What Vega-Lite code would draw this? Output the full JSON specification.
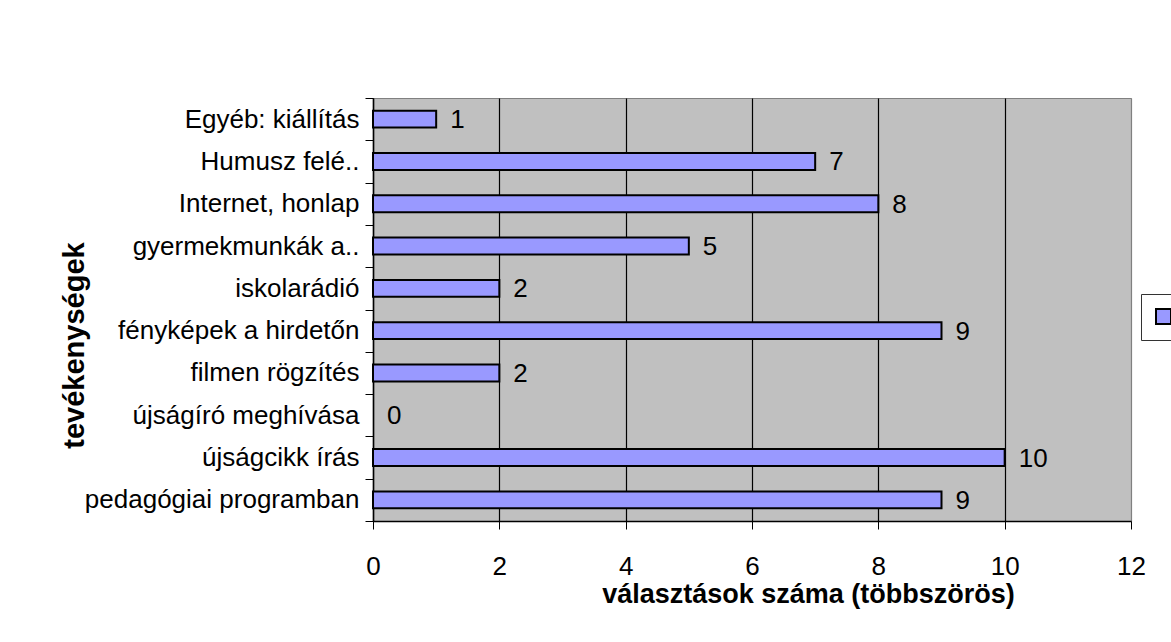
{
  "$schema": "https://vega.github.io/schema/vega-lite/v6.json",
  "width": 758,
  "height": 423,
  "autosize": {"type": "none"},
  "padding": {"left": 373, "top": 98, "right": 40, "bottom": 121},
  "background": "white",
  "config": {
    "font": "Liberation Sans",
    "view": {"fill": "#C0C0C0", "stroke": "#808080", "strokeWidth": 1}
  },
  "data": {
    "values": [
      {"tevekenyseg": "Egyéb: kiállítás", "ertek": 1, "sorozat": "Adatsor1"},
      {"tevekenyseg": "Humusz felé..", "ertek": 7, "sorozat": "Adatsor1"},
      {"tevekenyseg": "Internet, honlap", "ertek": 8, "sorozat": "Adatsor1"},
      {"tevekenyseg": "gyermekmunkák a..", "ertek": 5, "sorozat": "Adatsor1"},
      {"tevekenyseg": "iskolarádió", "ertek": 2, "sorozat": "Adatsor1"},
      {"tevekenyseg": "fényképek a hirdetőn", "ertek": 9, "sorozat": "Adatsor1"},
      {"tevekenyseg": "filmen rögzítés", "ertek": 2, "sorozat": "Adatsor1"},
      {"tevekenyseg": "újságíró meghívása", "ertek": 0, "sorozat": "Adatsor1"},
      {"tevekenyseg": "újságcikk írás", "ertek": 10, "sorozat": "Adatsor1"},
      {"tevekenyseg": "pedagógiai programban", "ertek": 9, "sorozat": "Adatsor1"}
    ]
  },
  "encoding": {
    "y": {
      "field": "tevekenyseg",
      "type": "nominal",
      "sort": null,
      "scale": {"paddingInner": 0, "paddingOuter": 0},
      "axis": {
        "title": "tevékenységek",
        "titleFontSize": 29,
        "titleFontWeight": "bold",
        "titleColor": "black",
        "titleAngle": -90,
        "titleAlign": "center",
        "titleBaseline": "alphabetic",
        "titleX": -290,
        "titleY": 247,
        "labelFontSize": 26,
        "labelColor": "black",
        "labelLimit": 400,
        "labelPadding": 6,
        "tickSize": 8,
        "tickColor": "black",
        "tickBand": "extent",
        "domainColor": "black",
        "domainWidth": 1.5,
        "grid": false
      }
    },
    "x": {
      "field": "ertek",
      "type": "quantitative",
      "scale": {"domain": [0, 12], "nice": false},
      "axis": {
        "title": "választások száma (többszörös)",
        "titleFontSize": 27,
        "titleFontWeight": "bold",
        "titleColor": "black",
        "titleAlign": "center",
        "titleBaseline": "alphabetic",
        "titleX": 435,
        "titleY": 81,
        "values": [0, 2, 4, 6, 8, 10, 12],
        "labelFontSize": 26,
        "labelColor": "black",
        "labelBaseline": "alphabetic",
        "labelPadding": 45,
        "labelFlush": false,
        "tickSize": 8,
        "tickColor": "black",
        "domainColor": "black",
        "domainWidth": 1.5,
        "grid": true,
        "gridColor": {"condition": {"test": "datum.value === 12", "value": "#808080"}, "value": "black"},
        "gridWidth": 1.2
      }
    }
  },
  "layer": [
    {
      "mark": {"type": "bar", "height": {"band": 0.4}, "stroke": "black"},
      "encoding": {
        "strokeWidth": {"condition": {"test": "datum.ertek === 0", "value": 0}, "value": 2},
        "color": {
          "field": "sorozat",
          "type": "nominal",
          "scale": {"range": ["#9999FF"]},
          "legend": {
            "title": null,
            "orient": "none",
            "legendX": 768,
            "legendY": 196,
            "padding": 10,
            "strokeColor": "#333333",
            "symbolType": "square",
            "symbolSize": 225,
            "symbolStrokeColor": "black",
            "symbolStrokeWidth": 2,
            "symbolOpacity": 1,
            "labelExpression": "''",
            "labelFontSize": 25,
            "labelColor": "black"
          }
        }
      }
    },
    {
      "mark": {"type": "text", "align": "left", "baseline": "middle", "dx": 14, "dy": 1, "fontSize": 26, "color": "black"},
      "encoding": {
        "text": {"field": "ertek", "type": "quantitative"}
      }
    }
  ]
}
